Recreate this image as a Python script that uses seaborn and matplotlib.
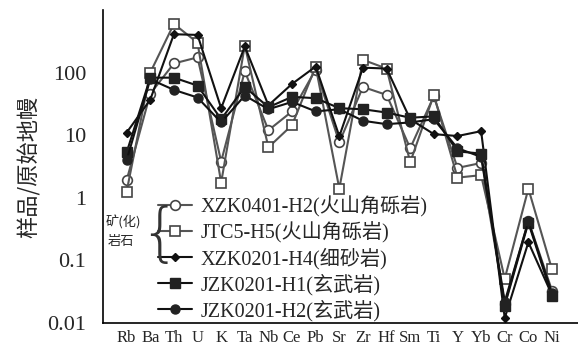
import matplotlib
matplotlib.use("Agg")
import matplotlib.pyplot as plt
import seaborn as sns
import pandas as pd
import numpy as np

elements = ["Rb", "Ba", "Th", "U", "K", "Ta", "Nb", "Ce", "Pb", "Sr", "Zr", "Hf",
            "Sm", "Ti", "Y", "Yb", "Cr", "Co", "Ni"]

xzk0401_h2 = [1.9, 46, 140, 175, 3.8, 105, 12, 24, 112, 7.7, 59, 44, 6.2, 42, 3.0, 3.6, 0.020, 0.43, 0.033]
jtc5_h5 = [1.26, 100, 600, 300, 1.75, 270, 6.4, 14.5, 125, 1.4, 160, 116, 3.7, 44, 2.1, 2.3, 0.051, 1.4, 0.072]
xzk0201_h4 = [11, 37, 410, 400, 27, 262, 30, 66, 125, 9.6, 120, 116, 18, 10.4, 9.7, 11.6, 0.012, 0.195, 0.028]
jzk0201_h1 = [5.3, 83, 83, 62, 18, 59, 28, 41, 39, 27, 26, 23, 19, 20, 5.5, 5.1, 0.019, 0.40, 0.027]
jzk0201_h2 = [4.0, 78, 53, 40, 16, 43, 26, 34, 24, 26, 17, 15, 16, 18, 6.2, 4.5, 0.022, 0.42, 0.030]

labels = ["XZK0401-H2(火山角砾岩)", "JTC5-H5(火山角砾岩)", "XZK0201-H4(细砂岩)",
          "JZK0201-H1(玄武岩)", "JZK0201-H2(玄武岩)"]
series = [xzk0401_h2, jtc5_h5, xzk0201_h4, jzk0201_h1, jzk0201_h2]

sns.set_theme(style="white")
plt.rcParams["font.family"] = ["Liberation Serif", "Noto Sans CJK SC"]
plt.rcParams["axes.unicode_minus"] = False

fig = plt.figure(figsize=(5.78, 3.47), dpi=100)
ax = fig.add_axes([103 / 578, 1 - 323 / 347, 1 - 103 / 578, (323 - 10) / 347])

styles = [
    dict(color="#555555", marker="o", mfc="white", mec="#444444", ms=7, mew=1.2, lw=1.5),
    dict(color="#555555", marker="s", mfc="white", mec="#444444", ms=7, mew=1.2, lw=1.5),
    dict(color="#111111", marker="D", mfc="#111111", mec="#111111", ms=4.5, mew=1, lw=1.5),
    dict(color="#111111", marker="s", mfc="#222222", mec="#222222", ms=7, mew=1, lw=1.5),
    dict(color="#111111", marker="o", mfc="#222222", mec="#222222", ms=6.5, mew=1, lw=1.5),
]

pos = np.arange(len(elements))
for vals, lab, st in zip(series, labels, styles):
    df = pd.DataFrame({"pos": pos, "val": vals})
    sns.lineplot(data=df, x="pos", y="val", ax=ax, color=st["color"], lw=st["lw"],
                 marker=st["marker"], markersize=st["ms"], markerfacecolor=st["mfc"],
                 markeredgecolor=st["mec"], markeredgewidth=st["mew"], label=lab)

ax.set_yscale("log")
ax.set_ylim(0.01, 1000)
ax.set_xlim(-1, 19.1)
ax.set_yticks([0.01, 0.1, 1, 10, 100, 1000])
ax.set_yticklabels(["0.01", "0.1", "1", "10", "100", ""], fontsize=16)
ax.yaxis.set_minor_locator(matplotlib.ticker.NullLocator())
ax.set_xticks(np.arange(-1, 20))
ax.set_xticklabels([""] + elements + [""], fontsize=12)
ax.tick_params(axis="both", direction="in", length=5, width=1, color="black")
ax.tick_params(axis="x", pad=5)
ax.tick_params(axis="y", pad=12)
ax.set_xlabel("")
ax.set_ylabel("样品/原始地幔", fontsize=16, family=["Noto Sans CJK SC"], labelpad=5)
for s in ["top", "right"]:
    ax.spines[s].set_visible(False)
for s in ["left", "bottom"]:
    ax.spines[s].set_color("black")
    ax.spines[s].set_linewidth(1.2)

leg = ax.legend(loc="upper left", bbox_to_anchor=(55 / 475, 1 - (196 - 10) / 313), frameon=False,
                fontsize=14.5, handlelength=1.7, handletextpad=0.4, labelspacing=0.22,
                borderaxespad=0, borderpad=0)

fig.text(106 / 578, 1 - 222 / 347, "矿(化)", fontsize=9.5, family=["Noto Sans CJK SC"], va="center", ha="left")
fig.text(108 / 578, 1 - 241 / 347, "岩石", fontsize=9.5, family=["Noto Sans CJK SC"], va="center", ha="left")
fig.text(139 / 578, 1 - 236 / 347, "{", fontsize=46, family=["DejaVu Sans"], va="center", ha="left",
         color="#333333", fontweight="ultralight")

fig.savefig("out.png", dpi=100)
